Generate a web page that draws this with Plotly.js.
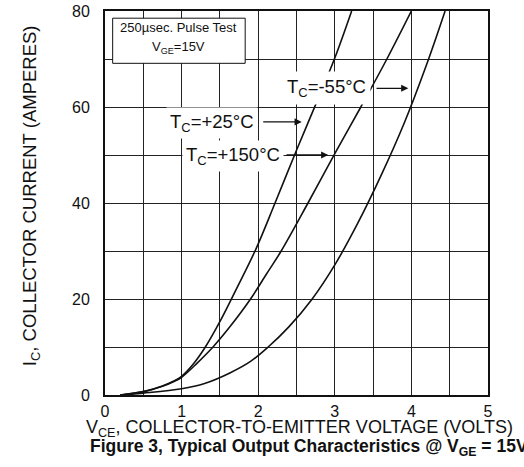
<!DOCTYPE html>
<html>
<head>
<meta charset="utf-8">
<script src="https://cdn.plot.ly/plotly-3.0.1.min.js"></script>
<style>html,body{margin:0;padding:0;background:#fff;}#chart{width:524px;height:467px;}</style>
</head>
<body>
<div id="chart"></div>
<script>
// Tc = +25°C (leftmost curve)
const vce25 = [0.2, 0.5, 0.75, 0.9, 1.0, 1.15, 1.31, 1.51, 1.7,  1.97, 2.22, 2.5, 2.75, 3.0,  3.22];
const ic25  = [0,   0.7, 1.9,  2.9, 3.9, 6.4,  10,   15.6, 21.6, 30.4, 40,   51,  60.5, 70.2, 80];
// Tc = +150°C (middle curve)
const vce150 = [0.2, 0.5, 0.75, 0.9, 1.0, 1.2, 1.41, 1.63, 1.9, 2.1, 2.3, 2.65, 3.0,  3.34, 3.68, 4.0];
const ic150  = [0,   0.7, 1.8,  2.8, 3.7, 6.6, 10,   14.2, 20,  25,  30,  40,   50.3, 60,   70,   80];
// Tc = -55°C (rightmost curve)
const vce55 = [0.2, 0.5, 1.0, 1.3, 1.63, 1.9, 2.13, 2.4,  2.7,  3.0,  3.3,  3.6,  3.9,  4.2,  4.44];
const ic55  = [0,   0.4, 1.3, 2.4, 4.6,  7.0, 10,   14.2, 19.9, 27.1, 35.8, 45.6, 56.4, 68.9, 80];

const xTicks = [0, 1, 2, 3, 4, 5];
const yTicks = [0, 20, 40, 60, 80];

const FONT = 'Arial, "Liberation Sans", Helvetica, sans-serif';
const lineStyle = {color: '#111', width: 1.6, shape: 'spline', smoothing: 1};

const traces = [
  {x: vce25, y: ic25, mode: 'lines', line: lineStyle, name: 'TC=+25°C', hoverinfo: 'skip'},
  {x: vce150, y: ic150, mode: 'lines', line: lineStyle, name: 'TC=+150°C', hoverinfo: 'skip'},
  {x: vce55, y: ic55, mode: 'lines', line: lineStyle, name: 'TC=-55°C', hoverinfo: 'skip'}
];

const labelFont = {family: FONT, size: 18.5, color: '#111'};
const arrowBase = {text: '', showarrow: true, arrowhead: 2, arrowsize: 1.1, arrowwidth: 1.3,
  arrowcolor: '#111', xref: 'x', yref: 'y', axref: 'x', ayref: 'y', standoff: 0, startstandoff: 0};

const layout = {
  width: 524, height: 467,
  margin: {l: 105, r: 36, t: 11, b: 72},
  paper_bgcolor: '#fff', plot_bgcolor: '#fff',
  showlegend: false,
  font: {family: FONT, size: 16, color: '#111'},
  xaxis: {
    range: [0, 5], tickvals: xTicks, ticktext: xTicks.map(String),
    showgrid: true, gridcolor: '#222', gridwidth: 1,
    minor: {dtick: 0.5, showgrid: true, gridcolor: '#222', gridwidth: 1, ticks: ''},
    showline: true, mirror: true, linecolor: '#111', linewidth: 2,
    ticks: '', ticklabelstandoff: 1, zeroline: false, fixedrange: true,
    tickfont: {family: FONT, size: 16, color: '#111'}
  },
  yaxis: {
    range: [0, 80], tickvals: yTicks, ticktext: yTicks.map(String),
    showgrid: true, gridcolor: '#222', gridwidth: 1,
    minor: {dtick: 10, showgrid: true, gridcolor: '#222', gridwidth: 1, ticks: ''},
    showline: true, mirror: true, linecolor: '#111', linewidth: 2,
    ticks: '', ticklabelstandoff: 10, zeroline: false, fixedrange: true,
    tickfont: {family: FONT, size: 16, color: '#111'}
  },
  shapes: [
    {type: 'rect', xref: 'x', yref: 'y', x0: 0.10, x1: 1.83, y0: 69.1, y1: 78.5,
     fillcolor: '#fff', line: {color: '#111', width: 1}, layer: 'above'}
  ],
  annotations: [
    {xref: 'x', yref: 'y', x: 0.965, y: 76.6, showarrow: false,
     text: '250µsec. Pulse Test', font: {family: FONT, size: 13, color: '#111'}},
    {xref: 'x', yref: 'y', x: 0.965, y: 72.3, showarrow: false,
     text: 'V<sub>GE</sub>=15V', font: {family: FONT, size: 13, color: '#111'}},
    {xref: 'x', yref: 'y', x: 2.894, y: 63.9, showarrow: false, text: 'T<sub>C</sub>=-55°C',
     bgcolor: '#fff', borderpad: 4, font: labelFont},
    {xref: 'x', yref: 'y', x: 1.403, y: 56.6, showarrow: false, text: 'T<sub>C</sub>=+25°C',
     bgcolor: '#fff', borderpad: 3, font: labelFont},
    {xref: 'x', yref: 'y', x: 1.665, y: 49.7, showarrow: false, text: 'T<sub>C</sub>=+150°C',
     bgcolor: '#fff', borderpad: 3, font: labelFont},
    Object.assign({}, arrowBase, {x: 3.96, y: 63.9, ax: 3.525, ay: 63.9}),
    Object.assign({}, arrowBase, {x: 2.568, y: 56.9, ax: 2.046, ay: 56.9}),
    Object.assign({}, arrowBase, {x: 2.915, y: 50, ax: 2.35, ay: 50}),
    // x axis title
    {xref: 'paper', yref: 'paper', x: 0.507, y: -0.0885, xanchor: 'center', yanchor: 'middle',
     showarrow: false, text: 'V<sub>CE</sub>, COLLECTOR-TO-EMITTER VOLTAGE (VOLTS)',
     font: {family: FONT, size: 18, color: '#111'}},
    // y axis title
    {xref: 'paper', yref: 'paper', x: -0.193, y: 0.518, xanchor: 'center', yanchor: 'middle',
     textangle: -90, showarrow: false, text: 'I<sub>C</sub>, COLLECTOR CURRENT (AMPERES)',
     font: {family: FONT, size: 18.5, color: '#111'}},
    // caption
    {xref: 'paper', yref: 'paper', x: -0.0444, y: -0.1355, xanchor: 'left', yanchor: 'middle',
     showarrow: false,
     text: '<b>Figure 3, Typical Output Characteristics @ V<sub>GE</sub> = 15V</b>',
     font: {family: FONT, size: 17.5, color: '#111'}}
  ]
};

Plotly.newPlot('chart', traces, layout, {staticPlot: true, displayModeBar: false});
</script>
</body>
</html>
